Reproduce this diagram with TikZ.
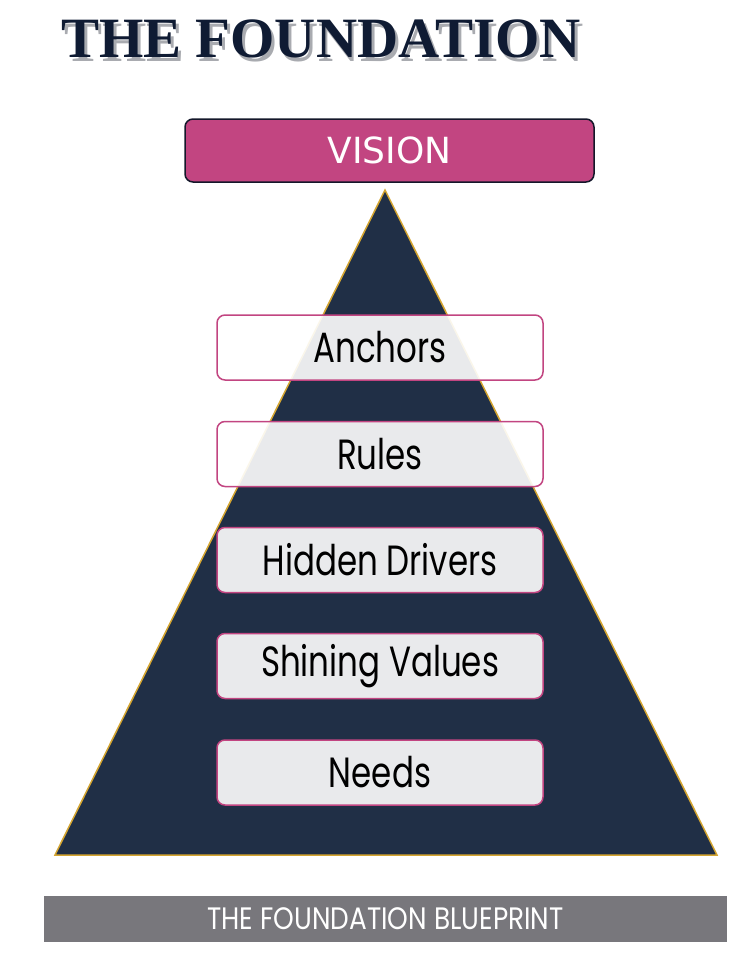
\documentclass[tikz,border=0pt]{standalone}
\usepackage{fontspec}
\setmainfont{Liberation Serif}
\newfontfamily\labelfont{Poppins}
\newfontfamily\visionfont{DejaVu Sans}
\usetikzlibrary{shapes.geometric}
\definecolor{navy}{HTML}{202F46}
\definecolor{gold}{HTML}{D4A531}
\definecolor{magenta}{HTML}{C24581}
\definecolor{titlenavy}{HTML}{0F1B33}
\definecolor{footgray}{HTML}{78777C}
\definecolor{visionedge}{HTML}{14172A}
\definecolor{shadowgray}{HTML}{A9ABB0}
\newcommand{\layertext}[1]{\scalebox{1}[1.3]{#1}}
\tikzset{
  layerbox/.style={draw=magenta, line width=1.5pt, rounded corners=8pt, fill=white, fill opacity=0.9, text opacity=1, minimum width=326pt, minimum height=65pt, inner sep=0pt, font=\labelfont\fontsize{32.5}{32.5}\selectfont, text=black},
}
\begin{document}
\begin{tikzpicture}[x=1pt,y=-1pt]
\useasboundingbox (0,0) rectangle (754,980);
% title with shadow
\node (title) [text=titlenavy, font=\bfseries\fontsize{57}{57}\selectfont] at (321,41) {\rlap{\hspace{3pt}\raisebox{-4pt}{\textcolor{shadowgray}{THE FOUNDATION}}}THE FOUNDATION};
% vision
\node (vision) [draw=visionedge, line width=1.5pt, fill=magenta, rounded corners=8pt, minimum width=409pt, minimum height=63pt, inner sep=0pt, text=white, font=\visionfont\fontsize{36}{36}\selectfont] at (389.5,150.5) {VISION};
% pyramid
\coordinate (apex) at (385,190);
\coordinate (bl) at (55,855);
\coordinate (br) at (717,855);
\draw[gold, line width=1.5pt, fill=navy, line join=miter] (apex) -- (br) -- (bl) -- cycle;
% layers
\node (anchors) [layerbox] at (380,347.5) {\layertext{Anchors}};
\node (rules) [layerbox] at (380,454) {\layertext{Rules}};
\node (hidden) [layerbox] at (380,560) {\layertext{Hidden Drivers}};
\node (shining) [layerbox] at (380,666) {\layertext{Shining Values}};
\node (needs) [layerbox] at (380,772.5) {\layertext{Needs}};
% footer
\node (footer) [fill=footgray, minimum width=683pt, minimum height=46pt, inner sep=0pt, text=white, font=\labelfont\fontsize{31}{31}\selectfont] at (385.5,919) {\scalebox{0.85}[1]{THE FOUNDATION BLUEPRINT}};
\end{tikzpicture}
\end{document}
